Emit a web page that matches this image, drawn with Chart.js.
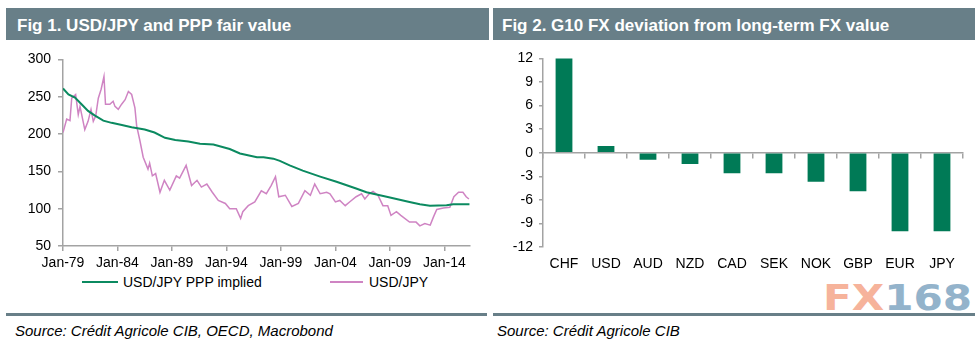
<!DOCTYPE html>
<html>
<head>
<meta charset="utf-8">
<script src="https://cdn.jsdelivr.net/npm/chart.js@4.4.0/dist/chart.umd.min.js"></script>
<style>
  body { margin: 0; width: 977px; height: 342px; background: #fff; position: relative; overflow: hidden; font-family: "Liberation Sans", Arial, sans-serif; }
  .head { position: absolute; top: 8px; height: 32px; line-height: 35px; background: #687f88; color: #fff; font-weight: bold; font-size: 17px; white-space: nowrap; }
  .foot { position: absolute; top: 313px; height: 3px; background: #687f88; }
  .src { position: absolute; top: 322px; font-size: 15px; font-style: italic; color: #000; line-height: 18px; white-space: nowrap; }
  .box { position: absolute; top: 44px; height: 230px; }
  .leg { position: absolute; top: 274px; font-size: 14px; line-height: 16px; color: #000; white-space: nowrap; }
  .sw { position: absolute; height: 2px; top: 281px; }
  .mark { position: absolute; left: 823px; top: 278px; font-family: "DejaVu Sans", sans-serif; font-weight: bold; font-size: 36px; letter-spacing: 0px; line-height: 40px; transform: scaleX(1.17); transform-origin: left top; }
</style>
</head>
<body>

<div class="head" style="left:6px; width:472px; padding-left:11px;">Fig 1. USD/JPY and PPP fair value</div>
<div class="head" style="left:493px; width:473px; padding-left:9px;">Fig 2. G10 FX deviation from long-term FX value</div>

<div class="box" style="left:0px; width:489px;"><canvas id="fig1" width="489" height="230"></canvas></div>
<div class="box" style="left:489px; width:488px;"><canvas id="fig2" width="488" height="230"></canvas></div>

<!-- legend for fig 1 -->
<div class="sw" style="left:82px; width:36px; background:#0b8a60;"></div>
<div class="leg" style="left:123px;">USD/JPY PPP implied</div>
<div class="sw" style="left:330px; width:33px; background:#cf84c3;"></div>
<div class="leg" style="left:369px;">USD/JPY</div>

<div class="mark"><span style="color:#f6b39b;">FX</span><span style="color:#93b3cb;">168</span></div>

<div class="foot" style="left:6px; width:481px;"></div>
<div class="foot" style="left:493px; width:482px;"></div>
<div class="src" style="left:15px;">Source: Crédit Agricole CIB, OECD, Macrobond</div>
<div class="src" style="left:497px;">Source: Crédit Agricole CIB</div>

<script>
"use strict"

// Fig 1 - dates are decimal years (Jan-79 = 1979.0)
let pppYears = [1979.0, 1979.5, 1980.1, 1980.7, 1981.3, 1981.9, 1982.7, 1983.46, 1984.4, 1985.3,
    1986.5, 1987.4, 1988.36, 1989.3, 1990.5, 1991.57, 1992.8, 1994.3, 1995.24, 1996.8,
    1997.4, 1998.3, 1998.9, 1999.8, 2001.0, 2002.6, 2004.1, 2004.7, 2005.9, 2006.85,
    2007.77, 2008.7, 2009.6, 2010.8, 2011.75, 2012.67, 2014.2, 2014.8, 2016.3];
let pppValues = [261, 253, 249, 240, 231, 225, 218, 215, 212, 209,
    206, 202, 195, 192, 190, 187, 186, 180, 174, 169,
    169, 167, 164, 158, 151, 143, 136, 133, 127, 122,
    119, 116, 113, 109, 106, 104, 104.5, 106, 106];

let fxYears = [1979.0, 1979.34, 1979.64, 1979.8, 1980.16, 1980.4, 1980.56, 1981.0, 1981.3, 1981.57,
    1981.78, 1982.0, 1982.24, 1982.5, 1982.76, 1982.9, 1983.3, 1983.6, 1983.77, 1984.07,
    1984.38, 1984.7, 1985.0, 1985.3, 1985.6, 1985.76, 1986.06, 1986.36, 1986.8, 1986.95,
    1987.2, 1987.5, 1987.9, 1988.3, 1988.8, 1989.4, 1989.7, 1990.3, 1990.8, 1991.3,
    1991.7, 1992.2, 1992.7, 1993.25, 1993.9, 1994.3, 1994.9, 1995.3, 1995.5, 1996.0,
    1996.6, 1997.2, 1997.66, 1998.1, 1998.5, 1998.8, 1999.4, 2000.0, 2000.6, 2001.2,
    2001.7, 2002.1, 2002.6, 2003.2, 2003.5, 2004.0, 2004.4, 2004.9, 2005.3, 2005.9,
    2006.4, 2006.7, 2007.1, 2007.45, 2007.9, 2008.36, 2008.8, 2009.1, 2009.6, 2010.0,
    2010.8, 2011.4, 2011.75, 2012.2, 2012.7, 2013.0, 2013.3, 2013.9, 2014.5, 2014.87,
    2015.3, 2015.7, 2016.0, 2016.25];
let fxValues = [202, 220, 218, 248, 253, 226, 237, 206, 217, 233,
    217, 224, 248, 260, 277, 240, 240, 244, 237, 233,
    240, 246, 257, 253, 235, 211, 191, 169, 153, 161,
    144, 147, 122, 138, 125, 144, 141, 158, 131, 138,
    129, 133, 122, 111, 107, 100, 100, 87, 96, 104,
    109, 124, 120, 131, 143, 116, 118, 103, 107, 124,
    118, 133, 120, 122, 120, 109, 111, 104, 109, 116,
    120, 113, 120, 123, 118, 104, 104, 91, 96, 91,
    82, 82, 77, 80, 78, 89, 99, 101, 102, 116,
    122, 122, 116, 113];

let fig1Ticks = [1979, 1984, 1989, 1994, 1999, 2004, 2009, 2014];

// Fig 2 - deviation in %
let currencies = ["CHF", "USD", "AUD", "NZD", "CAD", "SEK", "NOK", "GBP", "EUR", "JPY"];
let deviation = [12.1, 0.85, -0.9, -1.45, -2.6, -2.6, -3.7, -4.9, -10.0, -10.0];

let axisGrey = "#a3a3a3";

Chart.defaults.font.family = "'Liberation Sans', Arial, sans-serif";
Chart.defaults.font.size = 14;
Chart.defaults.color = "#000";

function toPoints(xs, ys) {
    let pts = [];
    for (let i = 0; i < xs.length; i++) {
        pts.push({ x: xs[i], y: ys[i] });
    }
    return pts;
}

new Chart(document.getElementById("fig1"), {
    type: "line",
    data: {
        datasets: [
            {
                label: "USD/JPY PPP implied",
                data: toPoints(pppYears, pppValues),
                borderColor: "#0b8a60",
                borderWidth: 2,
                pointRadius: 0,
                tension: 0
            },
            {
                label: "USD/JPY",
                data: toPoints(fxYears, fxValues),
                borderColor: "#cf84c3",
                borderWidth: 1.5,
                pointRadius: 0,
                tension: 0
            }
        ]
    },
    options: {
        responsive: false,
        animation: false,
        layout: { padding: { left: 6, right: 19, top: 14, bottom: 0 } },
        plugins: { legend: { display: false }, tooltip: { enabled: false } },
        scales: {
            x: {
                type: "linear",
                min: 1979,
                max: 2016.35,
                afterBuildTicks: function (scale) {
                    scale.ticks = fig1Ticks.map(v => ({ value: v }));
                },
                afterFit: function (scale) { scale.height = 28; },
                ticks: {
                    padding: 4,
                    maxRotation: 0,
                    callback: v => "Jan-" + String(v).slice(2)
                },
                grid: { drawOnChartArea: false, tickLength: 5, color: axisGrey, lineWidth: 1.5 },
                border: { color: axisGrey, width: 1.5 }
            },
            y: {
                min: 50,
                max: 300,
                ticks: { stepSize: 50, padding: 7 },
                afterFit: function (scale) { scale.width = 57; },
                grid: { drawOnChartArea: false, tickLength: 5, color: axisGrey, lineWidth: 1.5 },
                border: { color: axisGrey, width: 1.5 }
            }
        }
    }
});

new Chart(document.getElementById("fig2"), {
    type: "bar",
    data: {
        labels: currencies,
        datasets: [
            {
                label: "Deviation",
                data: deviation,
                backgroundColor: "#007a56",
                categoryPercentage: 1,
                barPercentage: 0.4,
                xAxisID: "x"
            }
        ]
    },
    options: {
        responsive: false,
        animation: false,
        layout: { padding: { left: 10, right: 14, top: 14, bottom: 0 } },
        plugins: { legend: { display: false }, tooltip: { enabled: false } },
        scales: {
            // category labels at the bottom
            x: {
                type: "category",
                offset: true,
                afterFit: function (scale) { scale.height = 27; },
                ticks: { padding: 9, maxRotation: 0 },
                grid: { display: false, drawTicks: false },
                border: { display: false }
            },
            // axis line with tick marks running through zero
            x0: {
                type: "category",
                position: { y: 0 },
                offset: true,
                ticks: { display: false },
                grid: { drawOnChartArea: false, offset: true, tickLength: 5, color: axisGrey, lineWidth: 1.5 },
                border: { color: axisGrey, width: 1.5 }
            },
            y: {
                min: -12,
                max: 12,
                ticks: { stepSize: 3, padding: 6 },
                afterFit: function (scale) { scale.width = 44; },
                grid: { drawOnChartArea: false, tickLength: 4, color: axisGrey, lineWidth: 1.5 },
                border: { color: axisGrey, width: 1.5 }
            }
        }
    }
});
</script>
</body>
</html>
